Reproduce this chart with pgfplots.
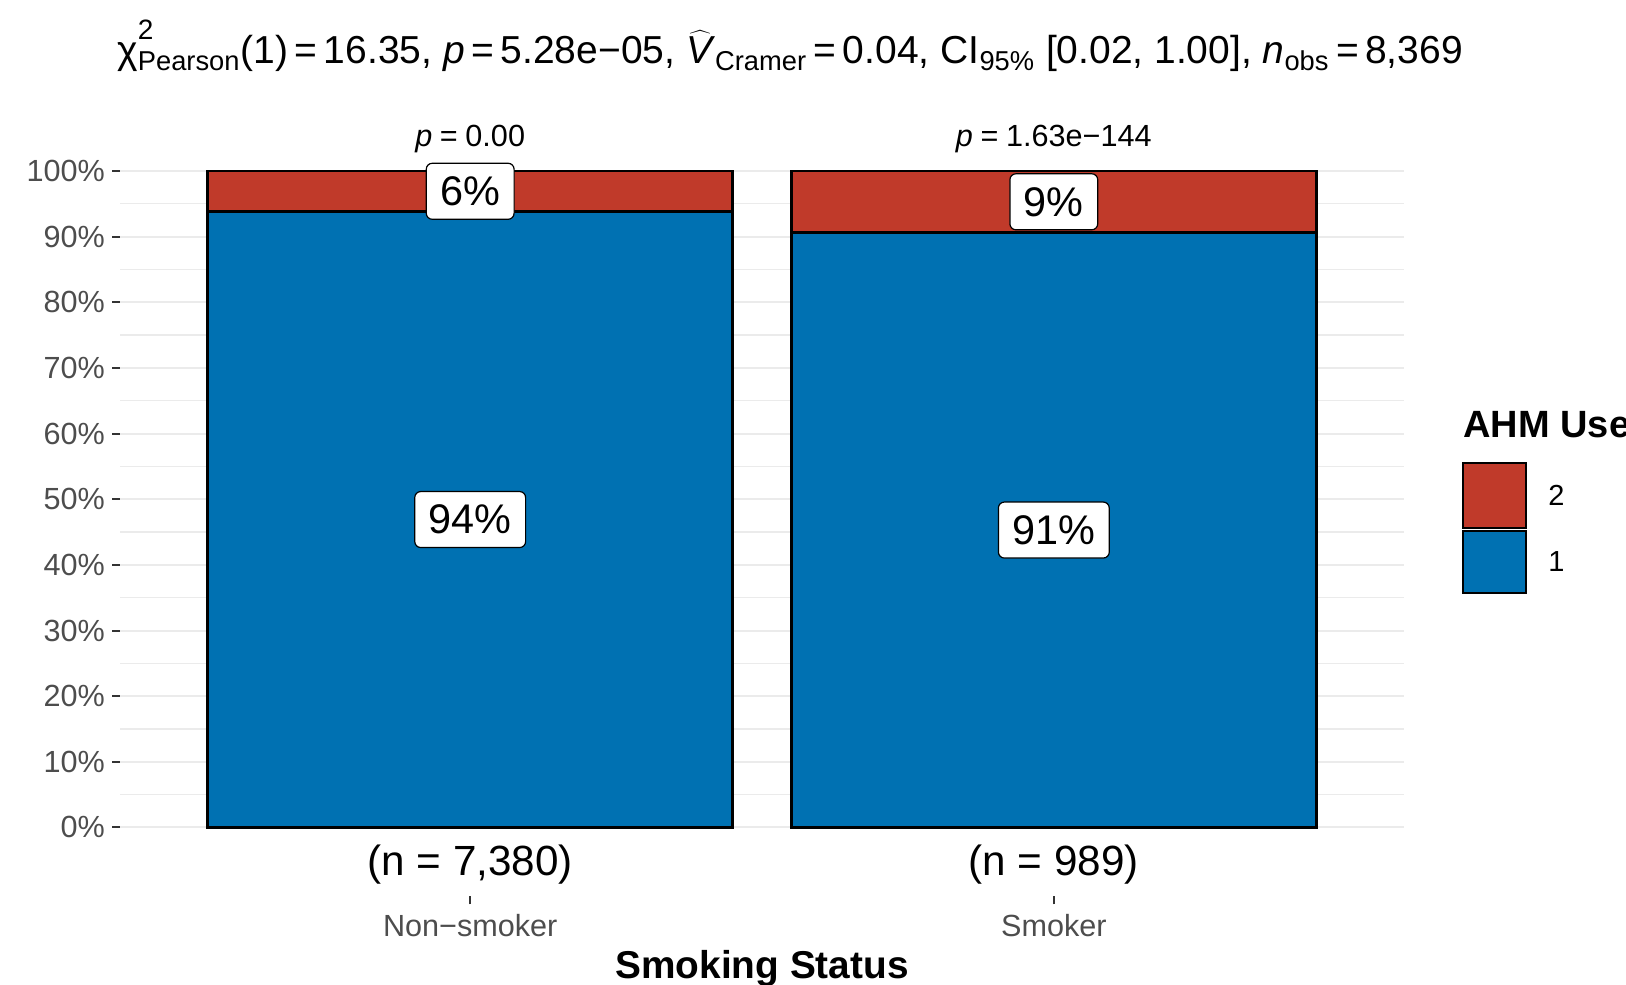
\documentclass[border=0pt]{standalone}
\usepackage{pgfplots}
\pgfplotsset{compat=1.18}
\usepackage{fontspec}
\setmainfont{Liberation Sans}
\definecolor{barblue}{RGB}{0,113,178}
\definecolor{barred}{RGB}{192,58,42}
\definecolor{gridc}{RGB}{235,235,235}
\definecolor{txtgray}{RGB}{77,77,77}
\definecolor{tickc}{RGB}{51,51,51}
\tikzset{lbl/.style={fill=white, draw=black, line width=0.6bp, rounded corners=3bp,
    font=\fontsize{20.7bp}{24bp}\selectfont, inner xsep=7bp, minimum height=28bp}}
\begin{document}
\begin{tikzpicture}
\useasboundingbox (0,0) rectangle (813bp,492.5bp);
\begin{axis}[
  at={(60bp,44.3bp)}, anchor=south west,
  scale only axis, width=642bp, height=397.2bp,
  xmin=0.4, xmax=2.6, ymin=-10.5, ymax=110.5,
  ybar stacked, bar width=0.9, bar shift=0pt,
  axis line style={draw=none},
  xtick={1,2}, xticklabels={Non\textminus smoker, Smoker},
  ytick={0,10,...,100},
  yticklabels={0\%,10\%,20\%,30\%,40\%,50\%,60\%,70\%,80\%,90\%,100\%},
  minor ytick={5,15,...,95},
  ymajorgrids, yminorgrids,
  major grid style={gridc, line width=1bp},
  minor grid style={gridc, line width=0.6bp},
  tick align=outside, major tick length=4bp, minor tick length=0pt,
  xtick pos=left, ytick pos=left,
  tick style={tickc, line width=1bp},
  ticklabel style={font=\fontsize{15.3bp}{17bp}\selectfont, text=txtgray},
  xticklabel style={yshift=-1.5bp},
  clip=false,
]
\addplot[fill=barblue, draw=black, line width=1.4bp] coordinates {(1,93.8) (2,90.6)};
\addplot[fill=barred, draw=black, line width=1.4bp] coordinates {(1,6.2) (2,9.4)};
\coordinate (l1) at (axis cs:1,46.9);
\coordinate (l2) at (axis cs:1,96.9);
\coordinate (l3) at (axis cs:2,45.3);
\coordinate (l4) at (axis cs:2,95.3);
\node[font=\fontsize{21.1bp}{24bp}\selectfont] at (axis cs:1,-5.6) {(n = 7,380)};
\node[font=\fontsize{21.1bp}{24bp}\selectfont] at (axis cs:2,-5.6) {(n = 989)};
\node[font=\fontsize{15.3bp}{17bp}\selectfont] at (axis cs:1,104.8) {\textit{p}\hspace{0.25em}=\hspace{0.25em}0.00};
\node[font=\fontsize{15.3bp}{17bp}\selectfont] at (axis cs:2,104.8) {\textit{p}\hspace{0.25em}=\hspace{0.25em}1.63e\textminus 144};
\end{axis}
\node[lbl] at (l1) {94\%};
\node[lbl] at (l2) {6\%};
\node[lbl] at (l3) {91\%};
\node[lbl] at (l4) {9\%};
\node[anchor=base west, inner sep=0, font=\fontsize{19.5bp}{22bp}\selectfont] at (58.5bp,460.5bp)
 {χ\rlap{\raisebox{0.62em}{\fontsize{14bp}{16bp}\selectfont 2}}\textsubscript{Pearson}(1)\,=\,16.35, \textit{p}\,=\,5.28e\textminus 05, \ooalign{\textit{V}\cr\hidewidth$\widehat{\phantom{\textit{V}}}$\hidewidth\cr}\textsubscript{Cramer}\,=\,0.04, CI\textsubscript{95\%} [0.02, 1.00], \textit{n}\textsubscript{obs}\,=\,8,369};
\node[font=\bfseries\fontsize{19.4bp}{22bp}\selectfont] at (381bp,8bp) {Smoking Status};
\node[anchor=west, inner sep=0, font=\bfseries\fontsize{19bp}{22bp}\selectfont] at (731.5bp,280bp) {AHM Use};
\draw[fill=barred, line width=1.2bp] (731.5bp,228.5bp) rectangle (763bp,261bp);
\draw[fill=barblue, line width=1.2bp] (731.5bp,196bp) rectangle (763bp,227bp);
\node[anchor=west, inner sep=0, font=\fontsize{14.5bp}{16bp}\selectfont] at (774bp,245bp) {2};
\node[anchor=west, inner sep=0, font=\fontsize{14.5bp}{16bp}\selectfont] at (774bp,211.5bp) {1};
\end{tikzpicture}
\end{document}
